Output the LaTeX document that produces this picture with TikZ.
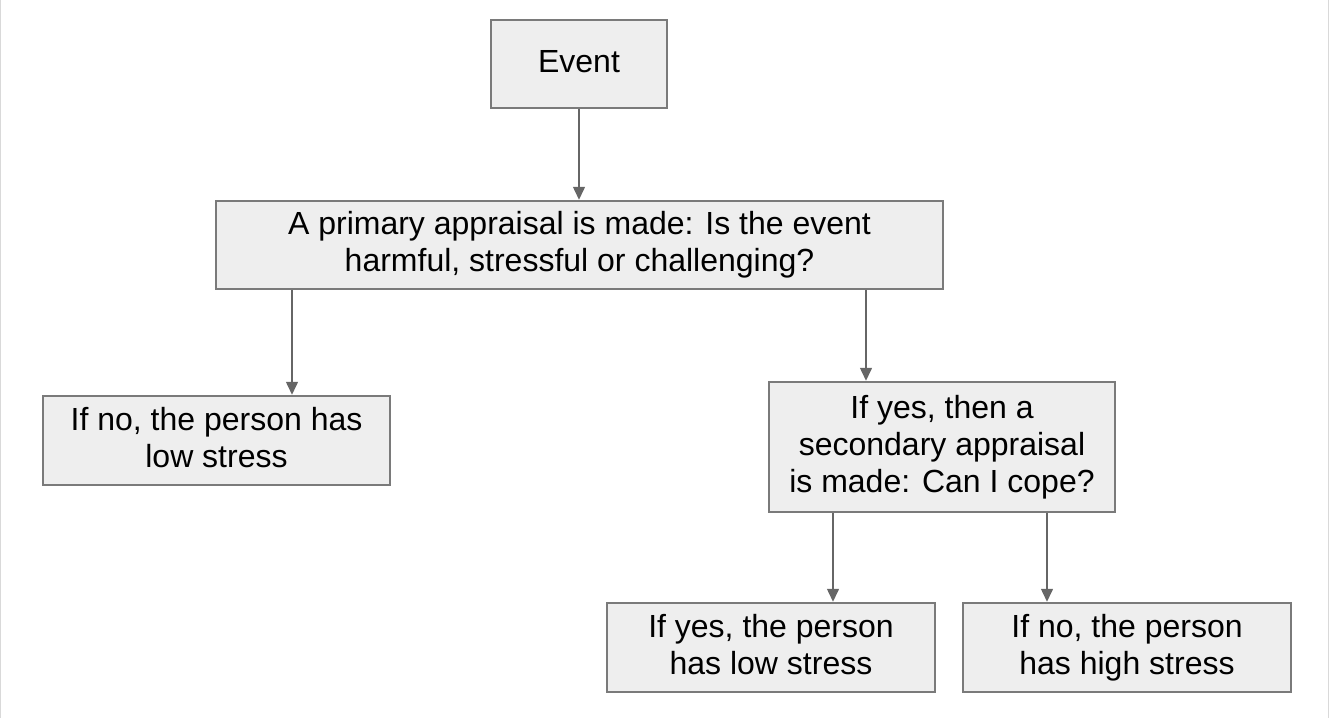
\documentclass[tikz,border=0pt]{standalone}
\usepackage{fontspec}
\setmainfont{Liberation Sans}
\usetikzlibrary{arrows.meta,calc}
\definecolor{boxfill}{HTML}{EEEEEE}
\definecolor{boxline}{HTML}{7A7A7A}
\definecolor{arrline}{HTML}{666666}
\definecolor{frameline}{HTML}{D9D9D9}
\newcommand{\tstrut}{\rule[-6pt]{0pt}{29pt}}
\begin{document}
\begin{tikzpicture}[x=1pt,y=-1pt,
  flowbox/.style={draw=boxline, fill=boxfill, line width=1.5pt, inner sep=0pt, align=center,
    font=\fontsize{32}{37}\selectfont},
  arr/.style={draw=arrline, line width=1.5pt, -{Triangle[length=13pt,width=12pt]}, shorten >=0.5pt}
]
\useasboundingbox (0,0) rectangle (1330,718);
\draw[frameline, line width=1.2pt] (0.6,0) -- (0.6,718);
\draw[frameline, line width=1.2pt] (1328.4,0) -- (1328.4,718);

\node[flowbox, minimum width=176pt, minimum height=88pt] (event) at (579,64) {\tstrut Event\tstrut};
\node[flowbox, minimum width=727pt, minimum height=88pt] (primary) at (579.5,245)
  {\tstrut A primary appraisal is made: Is the event\\harmful, stressful or challenging?\tstrut};
\node[flowbox, minimum width=347pt, minimum height=89pt] (nolow) at (216.5,440.5)
  {\tstrut If no, the person has\\low stress\tstrut};
\node[flowbox, minimum width=346pt, minimum height=130pt] (secondary) at (942,447)
  {\tstrut If yes, then a\\secondary appraisal\\is made: Can I cope?\tstrut};
\node[flowbox, minimum width=328pt, minimum height=89pt] (yeslow) at (771,647.5)
  {\tstrut If yes, the person\\has low stress\tstrut};
\node[flowbox, minimum width=328pt, minimum height=89pt] (nohigh) at (1127,647.5)
  {\tstrut If no, the person\\has high stress\tstrut};

\draw[arr] (event.south) -- (primary.north -| event.south);
\draw[arr] (primary.south -| 292,0) -- (nolow.north -| 292,0);
\draw[arr] (primary.south -| 866,0) -- (secondary.north -| 866,0);
\draw[arr] (secondary.south -| 833,0) -- (yeslow.north -| 833,0);
\draw[arr] (secondary.south -| 1047,0) -- (nohigh.north -| 1047,0);
\end{tikzpicture}
\end{document}
